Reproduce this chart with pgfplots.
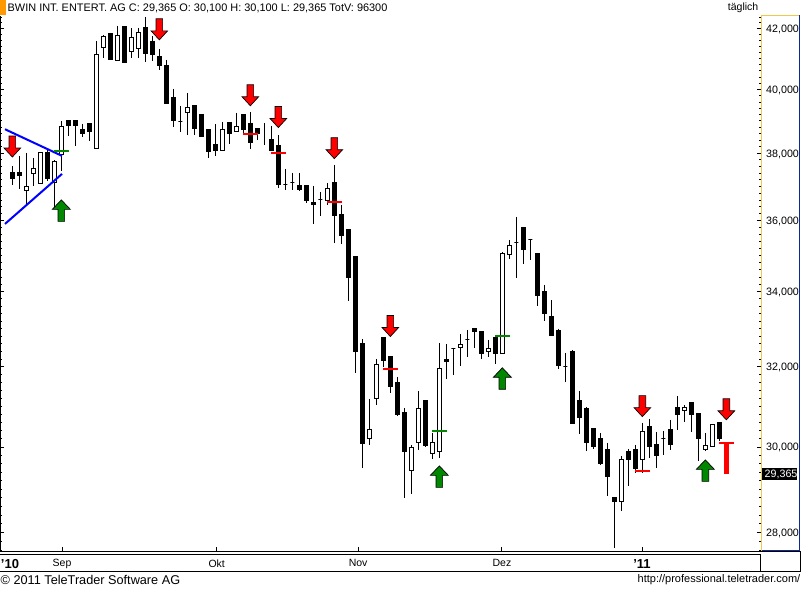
\documentclass[border=0pt]{standalone}
\usepackage{fontspec}
\setmainfont{Liberation Sans}
\usepackage{pgfplots}
\usepackage{pgfplotstable}
\pgfplotsset{compat=1.18}
\definecolor{tan}{HTML}{F0C84C}
\definecolor{orangebox}{HTML}{FF9900}
\definecolor{darkgreen}{HTML}{008800}
\definecolor{frameblue}{HTML}{0A2A9A}
\pgfdeclareplotmark{downarrow}{\pgfpathmoveto{\pgfqpoint{0pt}{0pt}}%
 \pgfpathlineto{\pgfqpoint{-8.3pt}{9pt}}\pgfpathlineto{\pgfqpoint{-3.3pt}{9pt}}%
 \pgfpathlineto{\pgfqpoint{-3.3pt}{21pt}}\pgfpathlineto{\pgfqpoint{3.3pt}{21pt}}%
 \pgfpathlineto{\pgfqpoint{3.3pt}{9pt}}\pgfpathlineto{\pgfqpoint{8.3pt}{9pt}}%
 \pgfpathclose\pgfusepathqfillstroke}
\pgfdeclareplotmark{uparrow}{\pgfpathmoveto{\pgfqpoint{0pt}{0pt}}%
 \pgfpathlineto{\pgfqpoint{-9pt}{-9.5pt}}\pgfpathlineto{\pgfqpoint{-3.3pt}{-9.5pt}}%
 \pgfpathlineto{\pgfqpoint{-3.3pt}{-21.5pt}}\pgfpathlineto{\pgfqpoint{3.3pt}{-21.5pt}}%
 \pgfpathlineto{\pgfqpoint{3.3pt}{-9.5pt}}\pgfpathlineto{\pgfqpoint{9pt}{-9.5pt}}%
 \pgfpathclose\pgfusepathqfillstroke}
\pgfplotstableread{
i o h l c
0 37436 37616 37046 37226
1 37436 37921 36928 37316
2 36867 38012 36455 36987
3 37376 37859 37017 37526
4 37077 38012 37077 38012
5 38012 38104 37165 37226
6 37106 37799 36397 37739
7 37951 39004 37466 38816
8 39004 39004 38535 38878
9 39004 39004 38227 38878
10 38722 38910 38504 38630
11 38910 38910 38381 38660
12 38165 41597 38165 41130
13 41362 41798 41031 41730
14 41831 41865 40965 40965
15 40932 42101 40932 41764
16 42067 42067 40866 40866
17 41229 42033 41031 41696
18 41329 42033 41031 41865
19 42033 42410 40900 41163
20 41563 41764 40932 41130
21 41064 41329 40637 40768
22 40768 40965 39540 39540
23 39733 40021 38816 39004
24 38988 39477 38660 38988
25 39256 39891 38566 39414
26 39477 39477 38566 38754
27 39192 39192 38504 38504
28 38722 38722 37859 38042
29 38288 38910 37921 38104
30 38104 38972 38104 38722
31 38941 38941 38288 38630
32 38660 39256 38660 38816
33 39224 39224 38566 38722
34 38910 39287 38134 38319
35 38754 38754 38412 38630
36 38941 38941 38258 38941
37 38443 38847 38074 38104
38 38227 38566 36957 37046
39 37046 37526 36897 37046
40 37106 37406 36897 37106
41 37017 37406 36867 36897
42 37017 37017 36514 36573
43 36514 37017 35902 36455
44 36602 36838 36133 36602
45 36573 37106 36455 36928
46 37106 37647 35358 36133
47 36163 36455 35329 35558
48 35729 35758 33745 34375
49 34961 34961 31846 32389
50 32598 32729 29502 30078
51 30199 31187 30054 30419
52 31187 32207 31036 32052
53 32755 32755 32001 32155
54 32258 32258 31338 31489
55 31591 31743 30762 30787
56 30837 30962 28798 29885
57 29432 30054 28892 29981
58 30102 31388 29933 30937
59 31137 31137 30005 30029
60 29836 30346 29717 30102
61 29885 32624 29741 31950
62 32181 32598 31693 32129
63 32467 32493 31795 32467
64 32493 32862 32026 32572
65 32703 32967 32258 32703
66 32993 33020 32493 32914
67 32914 32914 32207 32337
68 32389 32703 32258 32467
69 32755 32755 32078 32337
70 32337 35103 32337 35047
71 35018 35443 34905 35273
72 35358 36104 34375 35358
73 35787 35816 34765 35159
74 35443 35471 34877 35443
75 35047 35047 33611 33881
76 33990 34182 33207 33395
77 33314 33772 32809 32809
78 32940 32993 31950 32026
79 32001 32363 31617 32001
80 32389 32441 30566 30566
81 31137 31388 30320 30713
82 30937 30987 29909 30102
83 30443 30468 29957 30005
84 30199 30346 29573 29597
85 29933 30102 28846 29289
86 28798 28798 27663 28706
87 28706 29788 28499 29693
88 29885 29957 29078 29693
89 29933 30054 29385 29479
90 29693 30590 29385 30370
91 30492 30688 29741 30005
92 30054 30370 29502 29788
93 30199 30394 29812 30199
94 30419 30664 29933 30054
95 30962 31262 30419 30787
96 30887 31036 30615 30962
97 31087 31087 30370 30787
98 30812 30812 29669 30199
99 29933 30346 29909 30029
100 30005 30566 30005 30542
101 30590 30590 30151 30199
}\candles
\begin{document}
\begin{tikzpicture}
\useasboundingbox (0,0) rectangle (801pt,589pt);
\begin{axis}[
  at={(0pt,37.5pt)}, anchor=south west, scale only axis,
  width=761pt, height=536pt,
  xmin=-1.762, xmax=106.95,
  ymode=log, ymin=27586, ymax=42459,
  axis line style={draw=none},
  clip=false,
  tick align=inside,
  tick style={black, line width=1pt},
  major tick length=4.5pt, minor tick length=2.5pt,
  ytick={28000,30000,32000,34000,36000,38000,40000,42000},
  yticklabels={{28,000},{30,000},{32,000},{34,000},{36,000},{38,000},{40,000},{42,000}},
  minor ytick={27600,27800,28200,28400,28600,28800,29000,29200,29400,29600,29800,30200,30400,30600,30800,31000,31200,31400,31600,31800,32200,32400,32600,32800,33000,33200,33400,33600,33800,34200,34400,34600,34800,35000,35200,35400,35600,35800,36200,36400,36600,36800,37000,37200,37400,37600,37800,38200,38400,38600,38800,39000,39200,39400,39600,39800,40200,40400,40600,40800,41000,41200,41400,41600,41800,42200,42400},
  ytick pos=both, yticklabel pos=right,
  yticklabel style={font=\fontsize{10.7}{12}\selectfont, anchor=west, inner sep=0pt, xshift=5pt, yshift=-0.8pt},
  xtick={7.1,29.2,49.4,69.95,89.95},
  xticklabels={Sep,Okt,Nov,Dez,{\fontsize{13}{13}\selectfont\textbf{'11}}},
  xtick pos=bottom,
  x tick style={line width=1pt},
  xticklabel style={font=\fontsize{10.5}{12}\selectfont, inner sep=0pt, yshift=-8pt},
  extra x ticks={-0.33},
  extra x tick labels={{\fontsize{13}{13}\selectfont\textbf{'10}}},
  extra x tick style={tick style={draw=none}},
]
\pgfplotsforeachungrouped \r in {0,...,101}{%
  \pgfplotstablegetelem{\r}{i}\of\candles \let\vi\pgfplotsretval
  \pgfplotstablegetelem{\r}{o}\of\candles \let\vo\pgfplotsretval
  \pgfplotstablegetelem{\r}{h}\of\candles \let\vh\pgfplotsretval
  \pgfplotstablegetelem{\r}{l}\of\candles \let\vl\pgfplotsretval
  \pgfplotstablegetelem{\r}{c}\of\candles \let\vc\pgfplotsretval
  \pgfmathsetmacro\xa{\vi-0.2857}
  \pgfmathsetmacro\xb{\vi+0.2857}
  \ifnum\vc<\vo \def\bodyfill{black}\else \def\bodyfill{white}\fi
  \edef\cmd{\noexpand\addplot[black,line width=1pt,forget plot] coordinates {(\vi,\vh)(\vi,\vl)};}\cmd
  \edef\cmd{\noexpand\addplot[draw=black,fill=\bodyfill,line width=1pt,forget plot] coordinates {(\xa,\vo)(\xb,\vo)(\xb,\vc)(\xa,\vc)} -- cycle;}%
  \ifnum\vo=\vh \ifnum\vo=\vc \let\cmd\relax \fi\fi
  \cmd
}
% trend lines
\addplot[blue,line width=2pt,forget plot] coordinates {(-1.05,38745)(7.1,37921)};
\addplot[blue,line width=2pt,forget plot] coordinates {(-1.05,35902)(7.1,37376)};
% stop levels
\addplot[red,line width=2pt,forget plot] coordinates {(32.96,38608)(35.04,38608)};
\addplot[red,line width=2pt,forget plot] coordinates {(36.96,38021)(39.04,38021)};
\addplot[red,line width=2pt,forget plot] coordinates {(44.96,36543)(47.04,36543)};
\addplot[red,line width=2pt,forget plot] coordinates {(52.96,31950)(55.04,31950)};
\addplot[red,line width=2pt,forget plot] coordinates {(88.96,29438)(91.04,29438)};
\addplot[red,line width=2pt,forget plot] coordinates {(100.96,30110)(103.04,30110)};
\addplot[red,line width=5pt,forget plot] coordinates {(102,30110)(102,29365)};
\addplot[darkgreen,line width=2pt,forget plot] coordinates {(5.96,38074)(8.04,38074)};
\addplot[darkgreen,line width=2pt,forget plot] coordinates {(59.96,30402)(62.04,30402)};
\addplot[darkgreen,line width=2pt,forget plot] coordinates {(68.96,32809)(71.04,32809)};
% arrows
\addplot[only marks,mark=downarrow,mark options={fill=red,draw=black,line width=.7pt},forget plot] coordinates {
 (0,37890)(21,41629)(34,39487)(38,38794)(46,37838)(54,32790)(90,30745)(102,30664)};
\addplot[only marks,mark=uparrow,mark options={fill=darkgreen,draw=black,line width=.7pt},forget plot] coordinates {
 (7,36602)(61,29549)(70,31975)(99,29693)};
\end{axis}
\begin{scope}[x=1pt,y=-1pt,yshift=589pt]
  \fill[orangebox] (0,0) rectangle (6,15);
  \draw[black,line width=1pt] (0.5,16) -- (0.5,551.5);
  \draw[black,line width=1pt] (0,551.7) -- (801,551.7);
  \draw[black,line width=1pt] (0,554.3) -- (760.5,554.3);
  \draw[black,line width=1pt] (0,571.7) -- (801,571.7);
  \draw[black,line width=1pt] (760.5,554.3) -- (760.5,571.7);
  \draw[black,line width=1pt] (800.5,551.7) -- (800.5,571.7);
  \draw[tan,line width=1pt] (761.5,551) -- (761.5,15.5) -- (800,15.5);
  \draw[frameblue,line width=1pt] (799.5,15.5) -- (799.5,550.7) -- (761.5,550.7);
  \fill[black] (762.3,468.3) rectangle (796.7,480);
  \node[anchor=west,inner sep=0pt,text=white,font=\fontsize{10.7}{12}\selectfont] at (764.5,474.6) {29,365};
  \node[anchor=west,inner sep=0pt,font=\fontsize{10.93}{12}\selectfont] at (7.5,8) {BWIN INT. ENTERT. AG C: 29,365 O: 30,100 H: 30,100 L: 29,365 TotV: 96300};
  \node[anchor=east,inner sep=0pt,font=\fontsize{10.5}{12}\selectfont] at (758.5,8) {täglich};
  \node[anchor=west,inner sep=0pt,font=\fontsize{12.7}{14}\selectfont] at (0.5,580) {© 2011 TeleTrader Software AG};
  \node[anchor=east,inner sep=0pt,font=\fontsize{11}{12}\selectfont] at (800.5,580) {http://professional.teletrader.com/};
\end{scope}
\end{tikzpicture}
\end{document}
